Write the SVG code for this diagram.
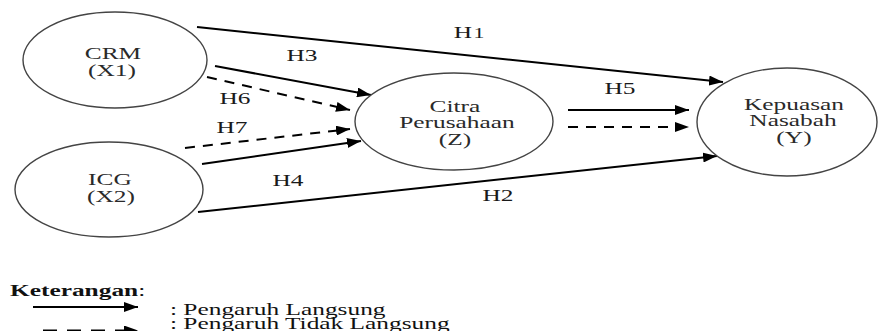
<svg xmlns="http://www.w3.org/2000/svg" width="879" height="331" viewBox="0 0 879 331">
<style>
  .node ellipse { fill: #ffffff; stroke: #444444; stroke-width: 1.4; }
  text { font-family: "Liberation Serif", "Times New Roman", serif; font-size: 17.5px; fill: #2a2a2a; }
  .c { text-anchor: middle; transform-box: fill-box; transform-origin: center; transform: scaleX(1.45); }
  .l { text-anchor: start; transform-box: fill-box; transform-origin: 0 50%; transform: scaleX(1.45); fill: #111111; }
  .lbl { fill: #1a1a1a; }
  .solid { fill: none; stroke: #000000; stroke-width: 2; marker-end: url(#ah); }
  .dash { fill: none; stroke: #000000; stroke-width: 2; stroke-dasharray: 10 8; marker-end: url(#ah); }
  .ldash { fill: none; stroke: #000000; stroke-width: 2; stroke-dasharray: 14 10; marker-end: url(#ah); }
</style>
<defs>
  <marker id="ah" markerUnits="userSpaceOnUse" markerWidth="14" markerHeight="10" refX="14" refY="5" orient="auto">
    <path d="M0,0 L14,5 L0,10 z" fill="#000000"/>
  </marker>
</defs>

<g id="connectors">
  <line id="H1" class="solid" x1="197" y1="27" x2="723" y2="82"/>
  <line id="H3" class="solid" x1="215" y1="66" x2="371" y2="95"/>
  <line id="H6" class="dash" x1="207" y1="77" x2="350" y2="110"/>
  <line id="H7" class="dash" x1="185" y1="148" x2="350" y2="129"/>
  <line id="H4" class="solid" x1="202" y1="164" x2="361" y2="141"/>
  <line id="H2" class="solid" x1="198" y1="212" x2="717" y2="156"/>
  <line id="H5a" class="solid" x1="568" y1="110" x2="689" y2="110"/>
  <line id="H5b" class="dash" x1="568" y1="127" x2="689" y2="127"/>
  <text class="c lbl" x="469" y="38">H<tspan font-size="15" dx="1">1</tspan></text>
  <text class="c lbl" x="302" y="61">H3</text>
  <text class="c lbl" x="235" y="104">H6</text>
  <text class="c lbl" x="232" y="133">H7</text>
  <text class="c lbl" x="288" y="186">H4</text>
  <text class="c lbl" x="498" y="201">H2</text>
  <text class="c lbl" x="620" y="94">H5</text>
</g>

<g id="crm" class="node">
  <ellipse cx="115" cy="60" rx="92" ry="48"/>
  <text class="c" x="113" y="59">CRM</text>
  <text class="c" x="112" y="76">(X1)</text>
</g>

<g id="icg" class="node">
  <ellipse cx="109" cy="189.5" rx="94" ry="47.5"/>
  <text class="c" x="110" y="185">ICG</text>
  <text class="c" x="111" y="202">(X2)</text>
</g>

<g id="citra" class="node">
  <ellipse cx="454" cy="121.5" rx="99" ry="48.5"/>
  <text class="c" x="455" y="112">Citra</text>
  <text class="c" x="457" y="128.5">Perusahaan</text>
  <text class="c" x="455" y="145">(Z)</text>
</g>

<g id="kepuasan" class="node">
  <ellipse cx="787" cy="122" rx="90" ry="54"/>
  <text class="c" x="794" y="110">Kepuasan</text>
  <text class="c" x="793" y="126.5">Nasabah</text>
  <text class="c" x="794" y="143">(Y)</text>
</g>

<g id="legend">
  <text class="l" x="10" y="296" font-weight="bold" fill="#000000">Keterangan<tspan font-weight="normal">:</tspan></text>
  <line class="solid" x1="33" y1="307" x2="138" y2="307"/>
  <text class="l" x="170" y="315">: Pengaruh Langsung</text>
  <line class="ldash" x1="43" y1="330.5" x2="138" y2="330.5"/>
  <text class="l" x="170" y="329">: Pengaruh Tidak Langsung</text>
</g>
</svg>
